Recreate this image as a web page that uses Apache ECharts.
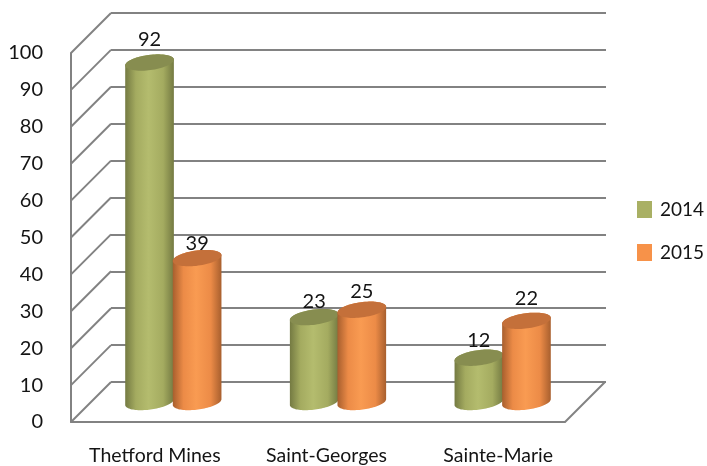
<!DOCTYPE html>
<html><head><meta charset="utf-8">
<style>html,body{margin:0;padding:0;background:#fff}#c{width:707px;height:466px}</style>
<script src="https://cdn.jsdelivr.net/npm/echarts@6/dist/echarts.min.js"></script>
</head><body><div id="c"></div>
<script>
const categories = ['Thetford Mines', 'Saint-Georges', 'Sainte-Marie'];
const values2014 = [92, 23, 12];
const values2015 = [39, 25, 22];
const seriesNames = ['2014', '2015'];
const yTicks = [0, 10, 20, 30, 40, 50, 60, 70, 80, 90, 100];

const DEPTH = 40, FONT = 'Lato', GRID = '#828282', TEXT = '#141414';
const labelLift2014 = [23, 16, 17];
const labelLift2015 = [15, 18, 22];

const chart = echarts.init(document.getElementById('c'), null, {renderer: 'canvas'});

function ringPoint(cx, cy, rx, ry, rot, t) {
  const x = rx * Math.cos(t), y = ry * Math.sin(t);
  return [cx + x * Math.cos(rot) - y * Math.sin(rot), cy + x * Math.sin(rot) + y * Math.cos(rot)];
}
function cylinder(dir, lifts, edge, mid, cap) {
  return function (params, api) {
    const cat = api.value(0), val = api.value(1);
    const band = api.size([1, 0])[0];
    const rx = band * 0.149, ry = 7.6, rot = -7.5 * Math.PI / 180;
    const base = api.coord([cat, 0]), top = api.coord([cat, val]);
    const cx = base[0] + DEPTH / 2 + dir * band * 0.1445;
    const yb = base[1] - DEPTH / 2, yt = top[1] - DEPTH / 2;
    const body = [];
    for (let i = 0; i <= 48; i++) body.push(ringPoint(cx, yb, rx, ry, rot, Math.PI * i / 48));
    for (let i = 0; i <= 48; i++) body.push(ringPoint(cx, yt, rx, ry, rot, Math.PI + Math.PI * i / 48));
    const ring = [];
    for (let i = 0; i < 72; i++) ring.push(ringPoint(cx, yt, rx, ry, rot, 2 * Math.PI * i / 72));
    return {
      type: 'group',
      children: [
        {type: 'polygon', shape: {points: body}, style: {
          fill: new echarts.graphic.LinearGradient(0, 0, 1, 0, [
            {offset: 0, color: edge}, {offset: 0.22, color: mid[0]},
            {offset: 0.48, color: mid[1]}, {offset: 0.78, color: mid[0]}, {offset: 1, color: edge}
          ])}},
        {type: 'polygon', shape: {points: ring}, style: {fill: cap}},
        {type: 'text', style: {
          text: String(val), x: cx, y: yt - lifts[cat],
          align: 'center', verticalAlign: 'middle',
          font: '20px ' + FONT, fill: TEXT}}
      ]
    };
  };
}
function wallLines(params, api) {
  const v = api.value(1), p = api.coord([0, v]);
  const left = params.coordSys.x, right = left + params.coordSys.width;
  const style = {stroke: GRID, lineWidth: 2};
  const kids = [{type: 'line', shape: {x1: left, y1: p[1], x2: left + DEPTH, y2: p[1] - DEPTH}, style}];
  if (v === 0) kids.push({type: 'line', shape: {x1: right, y1: p[1], x2: right + DEPTH, y2: p[1] - DEPTH}, style});
  return {type: 'group', children: kids};
}

const hiddenX = {type: 'category', data: categories, show: false};
const hiddenY = {type: 'value', min: 0, max: 100, interval: 10, show: false};

chart.setOption({
  animation: false,
  backgroundColor: '#fff',
  legend: {
    data: seriesNames, orient: 'vertical', left: 637, top: 200, padding: 0,
    itemWidth: 15, itemHeight: 17, itemGap: 24, icon: 'rect',
    textStyle: {fontFamily: FONT, fontSize: 19, lineHeight: 17, color: TEXT, padding: [0, 0, 0, 3]}
  },
  grid: [
    {left: 71, top: 53, width: 494, height: 369},
    {left: 111, top: 13, width: 495, height: 369},
    {left: 69, top: 53, width: 515, height: 369}
  ],
  xAxis: [
    {type: 'category', data: categories, gridIndex: 0,
     axisLine: {lineStyle: {color: GRID, width: 2}}, axisTick: {show: false}, axisLabel: {show: false}},
    Object.assign({gridIndex: 1}, hiddenX),
    {type: 'category', data: categories, gridIndex: 2,
     axisLine: {show: false}, axisTick: {show: false},
     axisLabel: {margin: 28, fontFamily: FONT, fontSize: 19.5, color: TEXT}}
  ],
  yAxis: [
    {type: 'value', min: 0, max: 100, interval: 10, gridIndex: 0,
     axisLine: {show: true, lineStyle: {color: GRID, width: 2}}, axisTick: {show: false},
     splitLine: {show: false},
     axisLabel: {margin: 28, fontFamily: FONT, fontSize: 20, color: TEXT, padding: [4, 0, 0, 0]}},
    {type: 'value', min: 0, max: 100, interval: 10, gridIndex: 1,
     axisLine: {show: false}, axisTick: {show: false}, axisLabel: {show: false},
     splitLine: {show: true, lineStyle: {color: GRID, width: 2}}},
    Object.assign({gridIndex: 2}, hiddenY)
  ],
  series: [
    {type: 'custom', name: 'walls', xAxisIndex: 0, yAxisIndex: 0, z: 1, silent: true, clip: false,
     data: yTicks.map(t => [0, t]), renderItem: wallLines},
    {type: 'custom', name: seriesNames[0], xAxisIndex: 0, yAxisIndex: 0, z: 3, clip: false,
     itemStyle: {color: '#A9B064'},
     data: values2014.map((v, i) => [i, v]),
     renderItem: cylinder(-1, labelLift2014, '#747A42', ['#A4AB60', '#B4BC6E'], '#878D50')},
    {type: 'custom', name: seriesNames[1], xAxisIndex: 0, yAxisIndex: 0, z: 4, clip: false,
     itemStyle: {color: '#F79249'},
     data: values2015.map((v, i) => [i, v]),
     renderItem: cylinder(1, labelLift2015, '#A85F2E', ['#EC8B47', '#F99B52'], '#C4703A')}
  ]
});
</script></body></html>
